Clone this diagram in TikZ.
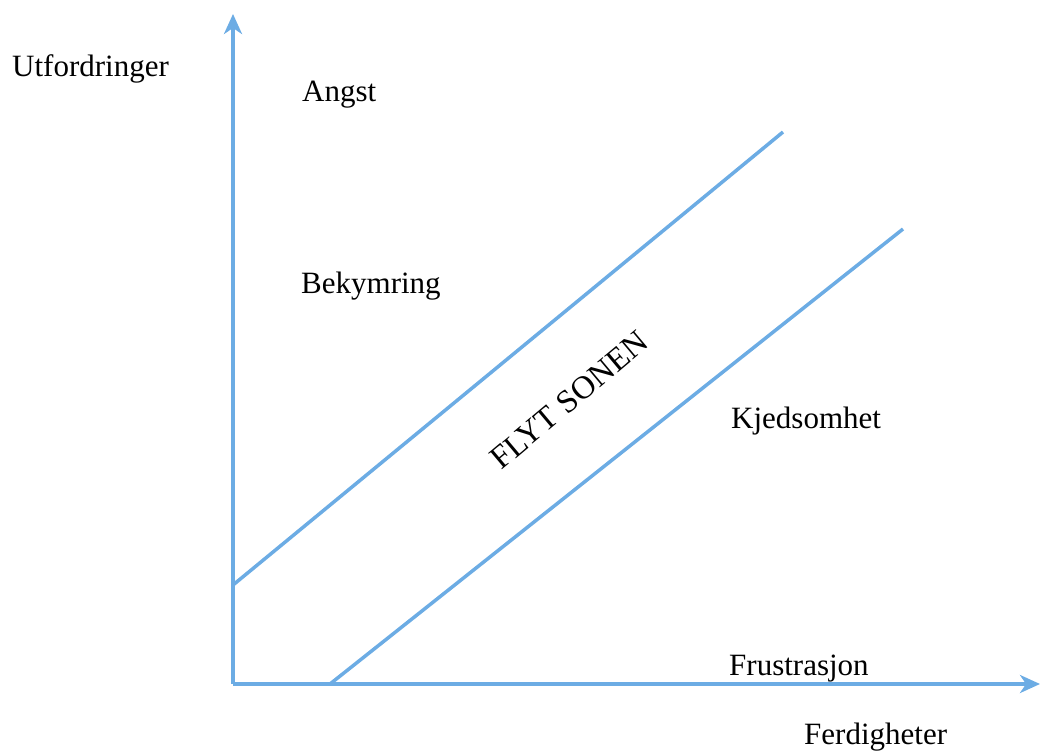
\documentclass[tikz,border=0pt]{standalone}
\usepackage{fontspec}
\setmainfont{Liberation Serif}
\usetikzlibrary{arrows.meta}
\definecolor{axisblue}{RGB}{108,172,228}
\begin{document}
\begin{tikzpicture}[x=1pt,y=-1pt,
  axisline/.style={draw=axisblue,line width=3.5pt},
  lbl/.style={font=\fontsize{31}{36}\selectfont,text=black,inner sep=0pt,anchor=base west}]
\useasboundingbox (0,0) rectangle (1043,752);
\coordinate (O) at (233,684);
\coordinate (Ytop) at (233,14);
\coordinate (Xend) at (1040,684);
\coordinate (A1) at (233,585);
\coordinate (A2) at (783,132);
\coordinate (B1) at (330,684);
\coordinate (B2) at (903,229);
\draw[axisline,-{Stealth[length=20pt,width=18pt,inset=6pt]}] (O) -- (Ytop);
\draw[axisline,-{Stealth[length=20pt,width=18pt,inset=6pt]}] (O) -- (Xend);
\draw[axisline] (A1) -- (A2);
\draw[axisline] (B1) -- (B2);
\node[lbl] (u) at (12,76) {Utfordringer};
\node[lbl] (a) at (302,101) {Angst};
\node[lbl] (b) at (301,293) {Bekymring};
\node[lbl,anchor=center,rotate=40,font=\fontsize{32.5}{36}\selectfont] (f) at (569,400) {FLYT SONEN};
\node[lbl] (k) at (731,428) {Kjedsomhet};
\node[lbl] (fr) at (729,675) {Frustrasjon};
\node[lbl] (fe) at (804,744) {Ferdigheter};
\end{tikzpicture}
\end{document}
